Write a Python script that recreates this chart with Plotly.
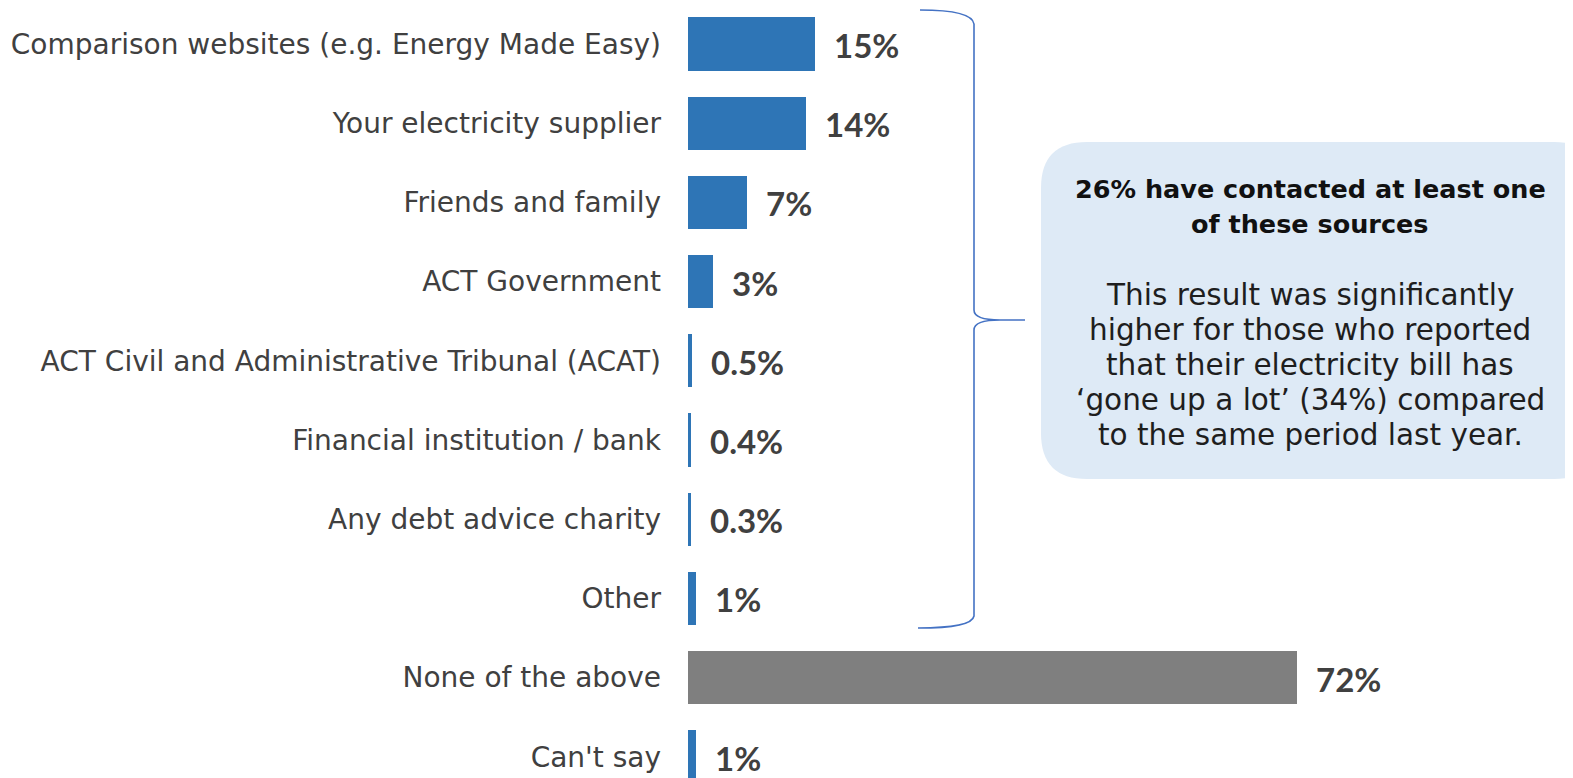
import plotly.graph_objects as go

categories = [
    "Comparison websites (e.g. Energy Made Easy)",
    "Your electricity supplier",
    "Friends and family",
    "ACT Government",
    "ACT Civil and Administrative Tribunal (ACAT)",
    "Financial institution / bank",
    "Any debt advice charity",
    "Other",
    "None of the above",
    "Can't say",
]
values = [15, 14, 7, 3, 0.5, 0.4, 0.3, 1, 72, 1]
bar_colors = ["#2E75B6"] * 8 + ["#7F7F7F", "#2E75B6"]
value_labels = [f"{v:g}%" for v in values]

title_lines = ["26% have contacted at least one", "of these sources"]
body_lines = [
    "This result was significantly",
    "higher for those who reported",
    "that their electricity bill has",
    "\u2018gone up a lot\u2019 (34%) compared",
    "to the same period last year.",
]

SCREEN_W, SCREEN_H = 1573, 778
OFF = 8                      # page offset of the figure inside the browser
W, H = SCREEN_W - OFF, SCREEN_H - OFF
BAR_LEFT = 688               # screen x of value 0
PX_PER_PCT = 8.46
ROW0 = 44.0                  # screen y of first row centre
ROW_STEP = 79.2

def dx(px):
    return (px - BAR_LEFT) / PX_PER_PCT

def dy(py):
    return (py - ROW0) / ROW_STEP

ypos = list(range(len(categories)))

fig = go.Figure()
fig.add_trace(go.Bar(
    x=values, y=ypos, orientation="h",
    marker=dict(color=bar_colors, line=dict(width=0)),
    width=0.67, hoverinfo="skip",
))

for v, y, t in zip(values, ypos, value_labels):
    fig.add_annotation(x=v, y=y, xref="x", yref="y", text=t, showarrow=False,
                       xanchor="left", yanchor="middle", xshift=17, yshift=-1,
                       font=dict(family="Lato", size=33, color="#404040", weight="bold"))

# curly brace
bp = [(920, 10), (972, 10), (974, 24), (974, 310), (974, 320), (1000, 320), (1025, 320),
      (1000, 320), (974, 320), (974, 330), (974, 616), (972, 628), (918, 628)]
P = [(dx(a), dy(b)) for a, b in bp]
path = (f"M {P[0][0]},{P[0][1]} Q {P[1][0]},{P[1][1]} {P[2][0]},{P[2][1]} "
        f"L {P[3][0]},{P[3][1]} Q {P[4][0]},{P[4][1]} {P[5][0]},{P[5][1]} "
        f"L {P[6][0]},{P[6][1]} L {P[7][0]},{P[7][1]} "
        f"Q {P[8][0]},{P[8][1]} {P[9][0]},{P[9][1]} "
        f"L {P[10][0]},{P[10][1]} Q {P[11][0]},{P[11][1]} {P[12][0]},{P[12][1]}")
fig.add_shape(type="path", path=path, xref="x", yref="y",
              line=dict(color="#4472C4", width=1.6))

# rounded box
x0, x1, y0, y1, r = 1041, 1600, 142, 479, 46
def pt(a, b):
    return f"{dx(a)},{dy(b)}"
box = (f"M {pt(x0 + r, y0)} L {pt(x1 - r, y0)} Q {pt(x1, y0)} {pt(x1, y0 + r)} "
       f"L {pt(x1, y1 - r)} Q {pt(x1, y1)} {pt(x1 - r, y1)} L {pt(x0 + r, y1)} "
       f"Q {pt(x0, y1)} {pt(x0, y1 - r)} L {pt(x0, y0 + r)} Q {pt(x0, y0)} {pt(x0 + r, y0)} Z")
fig.add_shape(type="path", path=box, xref="x", yref="y",
              fillcolor="#DEEAF6", line=dict(width=0), layer="below")

cx = 1310
for i, t in enumerate(title_lines):
    fig.add_annotation(x=dx(cx), y=dy(189 + 35 * i), xref="x", yref="y", text=t,
                       showarrow=False, xanchor="center", yanchor="middle",
                       font=dict(family="DejaVu Sans", size=25.5, color="#111111", weight="bold"))
for i, t in enumerate(body_lines):
    fig.add_annotation(x=dx(cx), y=dy(295 + 35 * i), xref="x", yref="y", text=t,
                       showarrow=False, xanchor="center", yanchor="middle",
                       font=dict(family="DejaVu Sans", size=29.5, color="#1E1E1E"))

fig.update_layout(
    width=W, height=H,
    margin=dict(l=BAR_LEFT - OFF, r=0, t=0, b=0),
    paper_bgcolor="white", plot_bgcolor="white",
    showlegend=False, bargap=0,
    xaxis=dict(range=[0, dx(SCREEN_W)], visible=False, fixedrange=True),
    yaxis=dict(range=[dy(SCREEN_H), dy(OFF)], tickvals=ypos, ticktext=categories,
               showgrid=False, zeroline=False, showline=False, ticks="",
               ticklabelstandoff=26,
               tickfont=dict(family="DejaVu Sans", size=28, color="#404040")),
)

fig.write_html("out.html")
